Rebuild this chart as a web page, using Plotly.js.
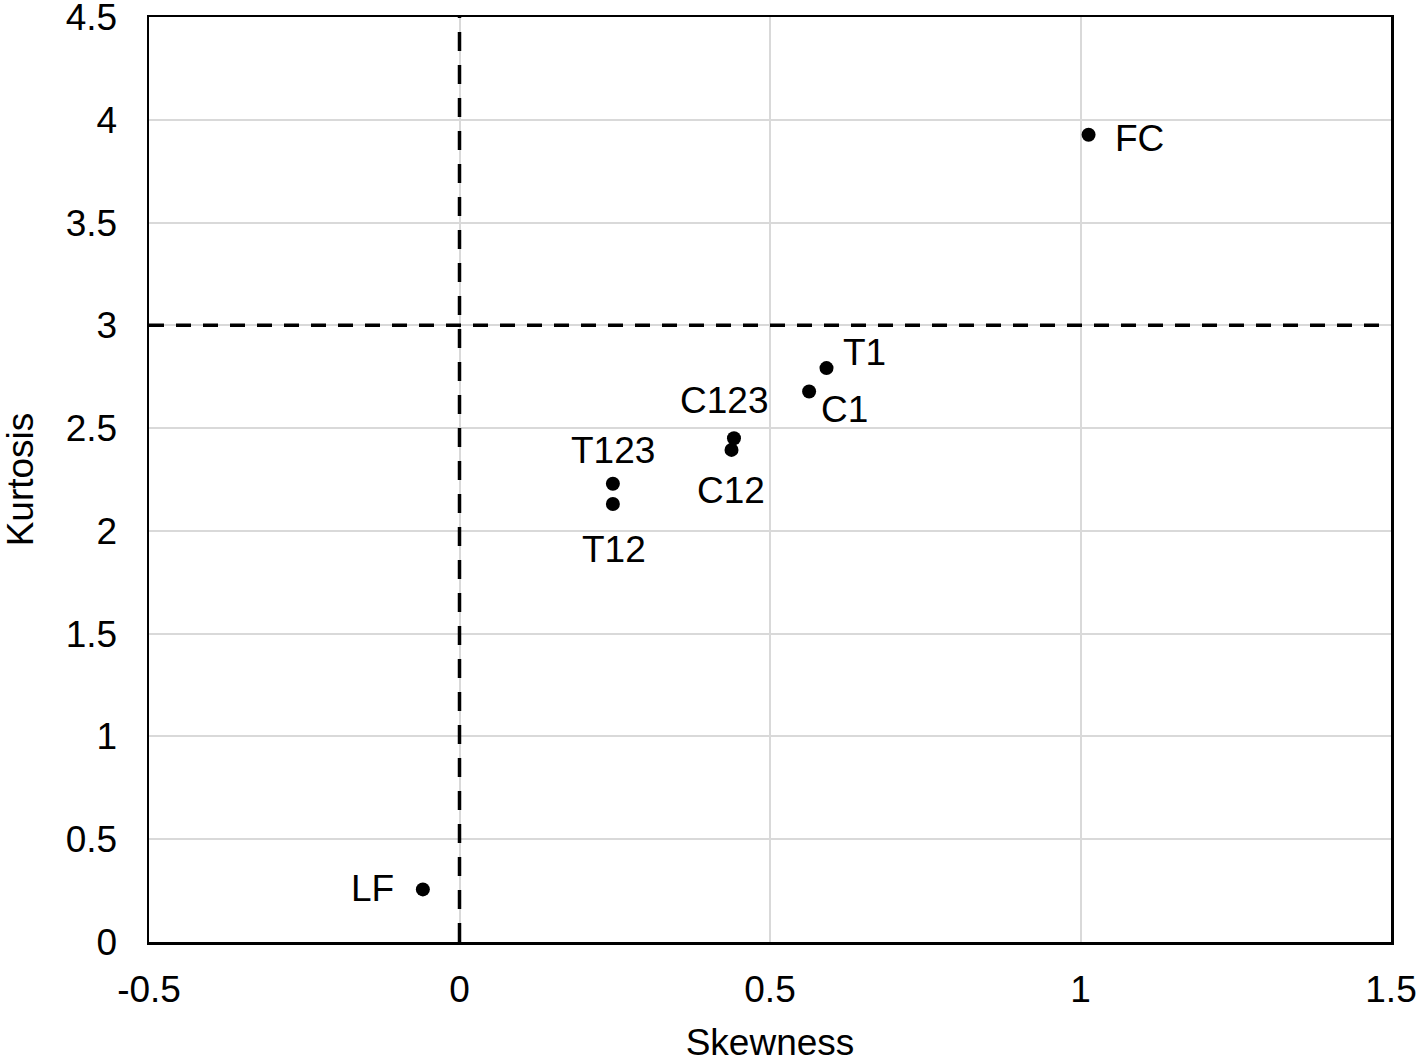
<!DOCTYPE html>
<html>
<head>
<meta charset="utf-8">
<script src="https://cdn.plot.ly/plotly-3.0.1.min.js"></script>
<style>html,body{margin:0;padding:0;background:#fff;}#chart{width:1418px;height:1063px;}</style>
</head>
<body>
<div id="chart"></div>
<script>
// Data
const labels = ["FC", "T1", "C1", "C123", "C12", "T123", "T12", "LF"];
const skewness = [1.013, 0.591, 0.563, 0.442, 0.438, 0.247, 0.247, -0.059];
const kurtosis = [3.927, 2.792, 2.678, 2.451, 2.394, 2.229, 2.131, 0.256];
const xTicks = [-0.5, 0, 0.5, 1, 1.5];
const yTicks = [0, 0.5, 1, 1.5, 2, 2.5, 3, 3.5, 4, 4.5];
const refSkewness = 0;
const refKurtosis = 3;

// Label offsets (pixels) - styling only
const labelShift = {
  FC: [51, -4], T1: [38, 16], C1: [35, -18], C123: [-10, 38],
  C12: [-1, -41], T123: [0, 33], T12: [1, -46], LF: [-50, 1]
};

const font = "Liberation Sans, Arial, sans-serif";
const fs = 37;

const trace = {
  x: skewness, y: kurtosis, mode: "markers", type: "scatter",
  marker: {color: "#000000", size: 14},
  hoverinfo: "x+y", showlegend: false
};

const annotations = labels.map((t, i) => ({
  x: skewness[i], y: kurtosis[i], text: t, showarrow: false,
  xshift: labelShift[t][0], yshift: labelShift[t][1],
  font: {family: font, size: fs, color: "#000"}
}));

const layout = {
  width: 1418, height: 1063,
  margin: {l: 149, r: 27, t: 17, b: 121},
  paper_bgcolor: "#fff", plot_bgcolor: "#fff",
  font: {family: font, size: fs, color: "#000"},
  xaxis: {
    range: [xTicks[0], xTicks[xTicks.length - 1]],
    tickvals: xTicks, ticktext: xTicks.map(String),
    showgrid: true, gridcolor: "#d9d9d9", gridwidth: 2,
    zeroline: false, showline: true, linecolor: "#000", linewidth: 2.5, mirror: true,
    ticks: "", ticklabelstandoff: 13, ticklabeloverflow: "allow",
    title: {text: "Skewness", font: {family: font, size: fs}, standoff: 39},
    automargin: false
  },
  yaxis: {
    range: [yTicks[0], yTicks[yTicks.length - 1] + 1e-9],
    tickvals: yTicks, ticktext: yTicks.map(String),
    showgrid: true, gridcolor: "#d9d9d9", gridwidth: 2,
    zeroline: false, showline: true, linecolor: "#000", linewidth: 2.5, mirror: true,
    ticks: "", ticklabelstandoff: 22, ticklabeloverflow: "allow",
    title: {text: "Kurtosis", font: {family: font, size: fs}, standoff: 38},
    automargin: false
  },
  shapes: [
    {type: "line", xref: "x", yref: "paper", x0: refSkewness, x1: refSkewness, y0: 0, y1: 1,
     line: {color: "#000", width: 3.5, dash: "19px,14px"}, layer: "above"},
    {type: "line", xref: "paper", yref: "y", x0: 0, x1: 1, y0: refKurtosis, y1: refKurtosis,
     line: {color: "#000", width: 3.5, dash: "15px,12px"}, layer: "above"}
  ],
  annotations: annotations
};

Plotly.newPlot("chart", [trace], layout, {displayModeBar: false, staticPlot: true});
</script>
</body>
</html>
